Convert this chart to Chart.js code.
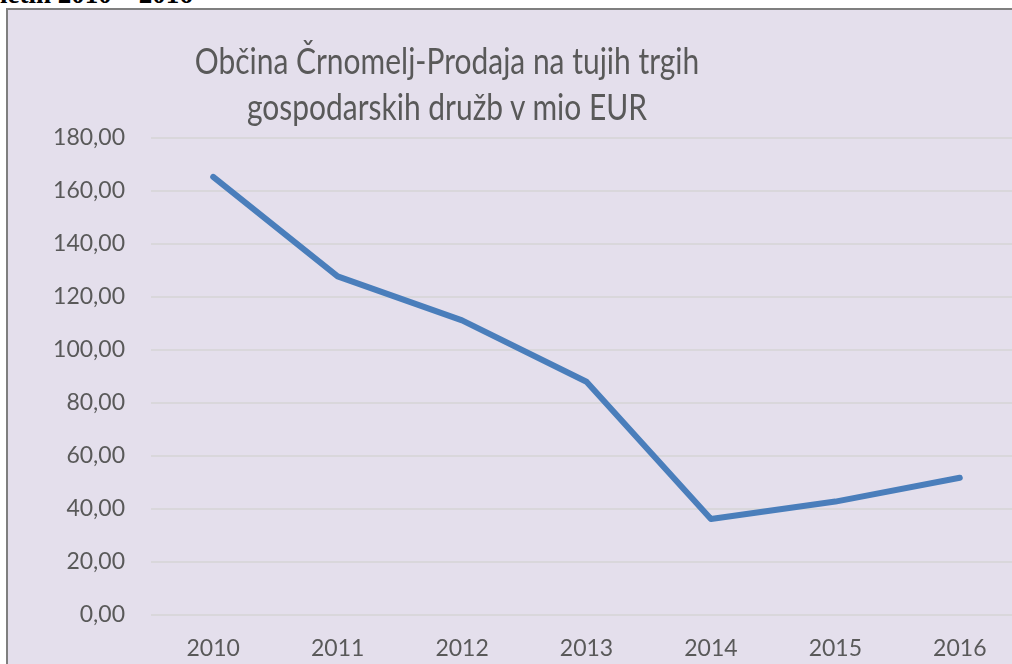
<!DOCTYPE html>
<html>
<head>
<meta charset="utf-8">
<script src="https://cdn.jsdelivr.net/npm/chart.js@4.4.1/dist/chart.umd.min.js"></script>
<style>
  html, body { margin: 0; padding: 0; width: 1012px; height: 664px; overflow: hidden; background: #fff; }
  #caption {
    position: absolute; left: 0; top: -21px;
    font: bold 27px "Liberation Serif", "Times New Roman", serif;
    color: #000; white-space: nowrap;
  }
  #box {
    position: absolute; left: 6px; top: 8px;
    width: 1040px; height: 680px;
    border: 2px solid #7f7f7f;
    background: #e4dfec;
  }
  #title {
    position: absolute; left: 0; top: 27px; width: 878px;
    text-align: center; color: #595959;
    font: 37px Lato, "Open Sans", sans-serif; line-height: 46px;
    transform: scaleX(0.81); transform-origin: 439px 0;
  }
  #chart { position: absolute; left: 0; top: 0; }
</style>
</head>
<body>
<div id="caption">letih 2010 – 2016</div>
<div id="box">
  <canvas id="chart" width="1030" height="680"></canvas>
  <div id="title">Občina Črnomelj-Prodaja na tujih trgih<br>gospodarskih družb v mio EUR</div>
</div>
<script>
const years = ['2010', '2011', '2012', '2013', '2014', '2015', '2016'];
const sales = [165.3, 127.8, 111.2, 88.0, 36.2, 42.8, 51.8];
const yTicks = [0, 20, 40, 60, 80, 100, 120, 140, 160, 180];

const textColor = '#595959';
const tickFont = { family: 'Lato, "Open Sans", sans-serif', size: 23 };

new Chart(document.getElementById('chart').getContext('2d'), {
    type: 'line',
    data: {
        labels: years,
        datasets: [{
            label: 'Prodaja na tujih trgih',
            data: sales,
            borderColor: '#4a7ebb',
            borderWidth: 6,
            borderJoinStyle: 'round',
            borderCapStyle: 'round',
            pointRadius: 0,
            tension: 0,
            fill: false
        }]
    },
    options: {
        responsive: false,
        animation: false,
        layout: { padding: { top: 128, right: 16, left: 0, bottom: 0 } },
        plugins: { legend: { display: false }, tooltip: { enabled: false } },
        scales: {
            x: {
                offset: true,
                grid: { display: false },
                border: { display: false },
                ticks: { color: textColor, font: tickFont, padding: 12 },
                afterFit: s => { s.height = 680 - 605; }
            },
            y: {
                min: 0,
                max: 180,
                afterBuildTicks: s => { s.ticks = yTicks.map(v => ({ value: v })); },
                grid: { color: '#d9d7db', lineWidth: 2, drawTicks: false },
                border: { display: false },
                ticks: {
                    color: textColor, font: tickFont, padding: 26,
                    callback: v => v.toFixed(2).replace('.', ',')
                },
                afterFit: s => { s.width = 143; }
            }
        }
    }
});
</script>
</body>
</html>
